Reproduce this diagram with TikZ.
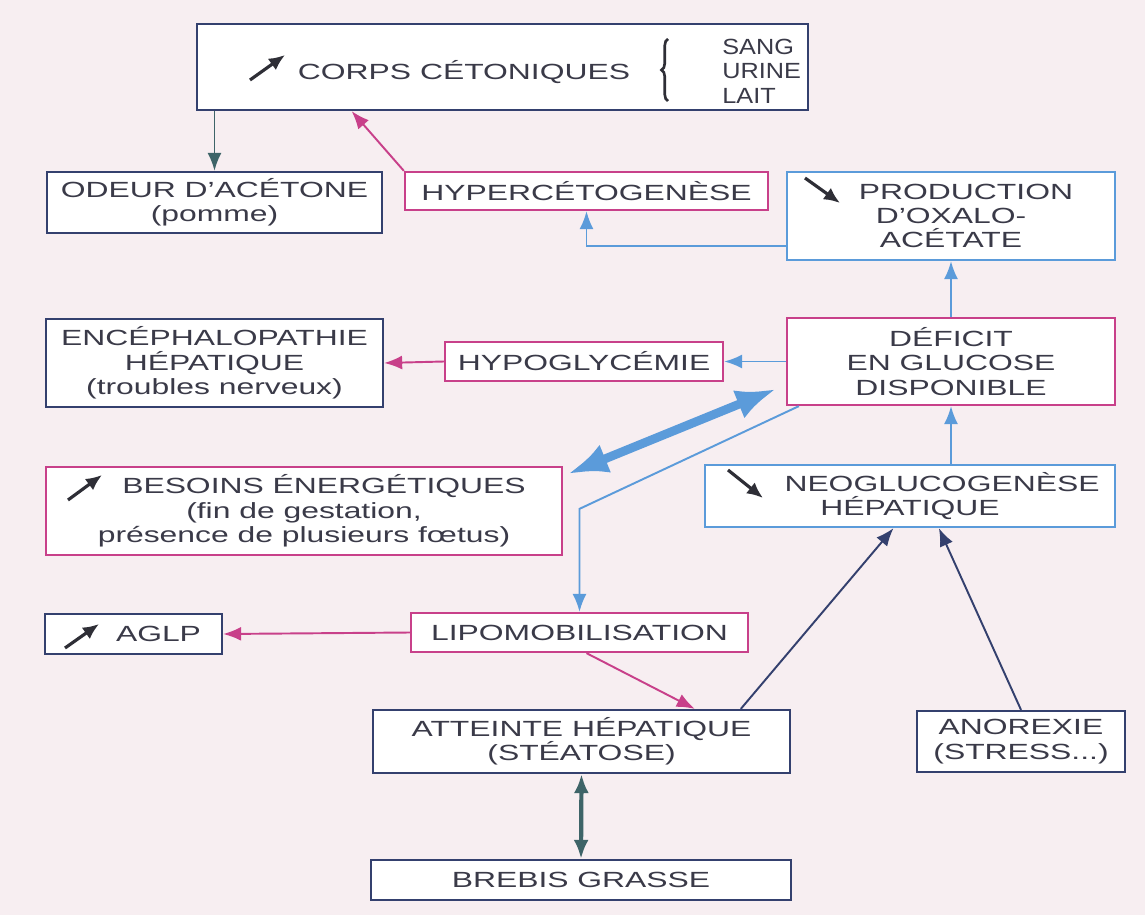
\documentclass[tikz,border=0pt]{standalone}
\usepackage{fontspec}
\setmainfont{Liberation Sans}[FakeStretch=1.45]
\newfontfamily\etroit{Liberation Sans}[FakeStretch=1.15]
\usepackage{color}
\usetikzlibrary{arrows.meta,calc,decorations.pathreplacing}
\definecolor{fond}{HTML}{F7EEF1}
\definecolor{marine}{HTML}{34406E}
\definecolor{rose}{HTML}{C8408A}
\definecolor{ciel}{HTML}{5B9BDA}
\definecolor{sarcelle}{HTML}{3E6468}
\definecolor{icone}{HTML}{2E2E36}
\definecolor{texte}{HTML}{3A3A48}

\begin{document}
\begin{tikzpicture}[x=0.02cm,y=-0.02cm,font=\fontsize{12.5}{13.9}\selectfont,text=texte,
	box/.style={draw=marine,fill=white,line width=1.3pt,align=center,inner sep=0pt},
	boxrose/.style={box,draw=rose},
	boxciel/.style={box,draw=ciel},
	fl/.style={line width=1.1pt,-{Latex[length=3.6mm,width=2.8mm]}},
	flrose/.style={fl,draw=rose},
	flciel/.style={fl,draw=ciel},
	flmarine/.style={fl,draw=marine},
	flsarc/.style={fl,draw=sarcelle},
	icone/.style={draw=icone,line width=1.8pt,-{Latex[length=3.2mm,width=2.8mm]}}]
		\useasboundingbox (0,0) rectangle (1145,915);
		\fill[fond] (0,0) rectangle (1145,915);

		\node[box,minimum width=611*0.02cm,minimum height=86*0.02cm] (corps) at (502.5,67) {};
		\node (corpstxt) at (464,72) {CORPS CÉTONIQUES};
		\node[anchor=west,align=left,inner sep=0pt,font=\etroit\fontsize{12.5}{13.9}\selectfont] (milieux) at (722,71) {SANG\\URINE\\LAIT};
		\draw[icone,line width=1.5pt,-,decorate,decoration={brace,amplitude=0.13cm}] (668,101) -- (668,39);

		\node[box,minimum width=335*0.02cm,minimum height=61*0.02cm] (odeur) at (214.5,202.5) {ODEUR D'ACÉTONE\\(pomme)};
		\node[boxrose,minimum width=363*0.02cm,minimum height=38*0.02cm] (hyper) at (586.5,191) {HYPERCÉTOGENÈSE};
		\node[boxciel,minimum width=328*0.02cm,minimum height=88*0.02cm] (prod) at (951,216) {\hspace*{0.6cm}PRODUCTION\\D'OXALO-\\ACÉTATE};
		\node[boxrose,minimum width=328*0.02cm,minimum height=87*0.02cm] (def) at (951,361.5) {DÉFICIT\\EN GLUCOSE\\DISPONIBLE};
		\node[boxrose,minimum width=278*0.02cm,minimum height=39*0.02cm] (hypo) at (584,361.5) {HYPOGLYCÉMIE};
		\node[box,minimum width=337*0.02cm,minimum height=88*0.02cm] (enceph) at (214.5,363) {ENCÉPHALOPATHIE\\HÉPATIQUE\\(troubles nerveux)};
		\node[boxrose,minimum width=516*0.02cm,minimum height=88*0.02cm] (bes) at (304,511) {\hspace*{0.8cm}BESOINS ÉNERGÉTIQUES\\(fin de gestation,\\présence de plusieurs fœtus)};
		\node[boxciel,minimum width=410*0.02cm,minimum height=62*0.02cm] (neo) at (910,496) {\hspace*{1.28cm}NEOGLUCOGENÈSE\\HÉPATIQUE};
		\node[box,minimum width=177*0.02cm,minimum height=40*0.02cm] (aglp) at (133.5,634) {\hspace*{1cm}AGLP};
		\node[boxrose,minimum width=337*0.02cm,minimum height=39*0.02cm] (lipo) at (579.5,632.5) {LIPOMOBILISATION};
		\node[box,minimum width=417*0.02cm,minimum height=63*0.02cm] (att) at (581.5,741.5) {ATTEINTE HÉPATIQUE\\(STÉATOSE)};
		\node[box,minimum width=208*0.02cm,minimum height=61*0.02cm] (anor) at (1021,741.5) {ANOREXIE\\(STRESS...)};
		\node[box,minimum width=420*0.02cm,minimum height=40*0.02cm] (breb) at (581,880) {BREBIS GRASSE};

		\draw[icone] (250,80) -- (285,55);
		\draw[icone] (805,178) -- (840,203);
		\draw[icone] (68,500) -- (102,475);
		\draw[icone] (728,470) -- (763,498);
		\draw[icone] (65,648) -- (99,624);

		\coordinate (cible) at ($(corps.south west)!0.254!(corps.south east)$);
		\coordinate (hautbes) at ($(bes.north east)+(5,8)$);
		\coordinate (basdef) at ($(def.south west)+(-10,-17)$);
		\coordinate (coude) at ($(lipo.north)+(0,-103)$);

		\draw[flsarc] (corps.south -| odeur.north) -- (odeur.north);
		\draw[flrose] (hyper.north west) -- (cible);
		\draw[flciel] ($(prod.west)+(0,30)$) -| (hyper.south);
		\draw[flciel] (def.north) -- (prod.south);
		\draw[flciel] (def.south |- neo.north) -- (def.south);
		\draw[flciel] (def.west) -- (hypo.east);
		\draw[flrose] (hypo.west) -- (enceph.east);
		\draw[draw=ciel,line width=5pt,{Latex[length=8mm,width=6mm]}-{Latex[length=8mm,width=6mm]}] (hautbes) -- (basdef);
		\draw[flciel] ($(def.south west)+(13,0)$) -- (coude) -- (lipo.north);
		\draw[flrose] (lipo.west) -- (aglp.east);
		\draw[flrose] ($(lipo.south)+(7,0)$) -- ($(att.north west)!0.77!(att.north east)$);
		\draw[flsarc,line width=2.4pt,{Latex[length=3.8mm,width=3mm]}-{Latex[length=3.8mm,width=3mm]}] (att.south) -- (breb.north);
		\draw[flmarine] ($(att.north west)!0.88!(att.north east)$) -- ($(neo.south west)!0.46!(neo.south east)$);
		\draw[flmarine] (anor.north) -- ($(neo.south west)!0.57!(neo.south east)$);
\end{tikzpicture}
\end{document}
